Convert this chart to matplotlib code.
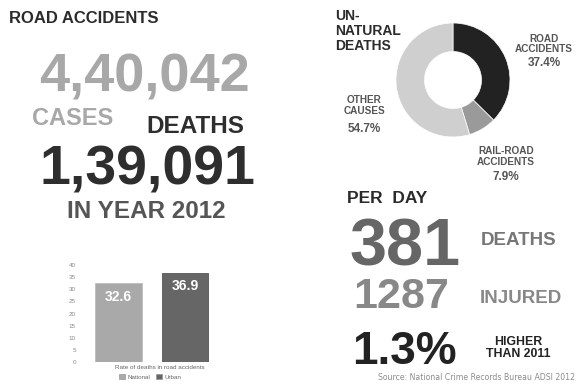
import matplotlib
matplotlib.use('Agg')
import matplotlib.pyplot as plt
from matplotlib.patches import Patch

#===== data =====
cases = "4,40,042"
deaths = "1,39,091"
year = "2012"

pie_labels = ["ROAD\nACCIDENTS", "RAIL-ROAD\nACCIDENTS", "OTHER\nCAUSES"]
pie_values = [37.4, 7.9, 54.7]
pie_colors = ["#222222", "#9a9a9a", "#cfcfcf"]

bar_cats = ["National", "Urban"]
bar_vals = [32.6, 36.9]
bar_colors = ["#a9a9a9", "#666666"]
bar_ticks = [0, 5, 10, 15, 20, 25, 30, 35, 40]

per_day_deaths = "381"
per_day_injured = "1287"
rise_pct = "1.3%"

W, H = 581, 392
plt.rcParams['font.family'] = ['Liberation Sans', 'DejaVu Sans']

fig = plt.figure(figsize=(W / 100, H / 100), dpi=100)
fig.patch.set_facecolor('white')


def txt(x, y, s, size, color, ha='left', weight='bold', **kw):
    # x,y in pixels from top-left, y is the baseline
    fig.text(x / W, 1 - y / H, s, fontsize=size, color=color, ha=ha,
             va='baseline', fontweight=weight, **kw)


def block(x, ys, lines, sizes, color, ha='center'):
    for y, s, sz in zip(ys, lines, sizes):
        txt(x, y, s, sz, color, ha=ha)


#===== left column =====
txt(9, 23, "ROAD ACCIDENTS", 12, "#2b2b2b")
txt(39, 92, cases, 39, "#a8a8a8")
txt(32, 125, "CASES", 17, "#a8a8a8")
txt(146, 133, "DEATHS", 17.5, "#2e2e2e")
txt(40, 185, deaths, 40, "#2e2e2e")
txt(67, 218, "IN YEAR " + year, 17.5, "#555555")

#===== bar chart =====
ax = fig.add_axes([80 / W, 1 - 362 / H, 160 / W, 97 / H])
xs = range(len(bar_cats))
bars = ax.bar(xs, bar_vals, width=0.7, color=bar_colors,
              edgecolor=['#bdbdbd', '#555555'], linewidth=0.6)
for b, v in zip(bars, bar_vals):
    ax.annotate(f"{v}", (b.get_x() + b.get_width() / 2, v), xytext=(0, -5),
                textcoords='offset points', ha='center', va='top',
                fontsize=10, fontweight='bold', color='white')
ax.set_xlim(-0.58, 1.83)
ax.set_ylim(0, 40)
ax.set_yticks(bar_ticks)
ax.tick_params(axis='y', length=0, labelsize=4.5, labelcolor='#888888', pad=3)
ax.set_xticks([])
for sp in ax.spines.values():
    sp.set_visible(False)
ax.axhline(0, color='#cccccc', lw=0.8, ls=':')
ax.set_xlabel("Rate of deaths in road accidents", fontsize=4.5,
              color='#666666', fontweight='normal', labelpad=2)
handles = [Patch(facecolor=c, edgecolor='#888888', lw=0.4) for c in bar_colors]
fig.legend(handles, bar_cats, loc='center', bbox_to_anchor=(150 / W, 1 - 377 / H),
           ncol=2, frameon=False, fontsize=4.5, handlelength=0.9,
           handleheight=0.9, columnspacing=1.0, handletextpad=0.4,
           labelcolor='#666666')

#===== donut =====
cx, cy, r = 453, 80, 57
pax = fig.add_axes([(cx - r) / W, 1 - (cy + r) / H, 2 * r / W, 2 * r / H])
pax.pie(pie_values, colors=pie_colors, startangle=90, counterclock=False,
        radius=1, wedgeprops=dict(width=0.5, edgecolor='white', linewidth=0.5))
pax.set_xlim(-1, 1)
pax.set_ylim(-1, 1)
pax.set_aspect('equal')
pax.axis('off')

block(335, [20.5, 35, 50.5], ["UN-", "NATURAL", "DEATHS"], [10, 10, 10],
      "#2b2b2b", ha='left')

label_pos = [(544, [41.7, 51.7, 66.5]), (506, [153.5, 165, 180]),
             (364, [103.5, 113.5, 131.5])]
for (lx, ys), name, v in zip(label_pos, pie_labels, pie_values):
    lines = name.split("\n") + [f"{v}%"]
    block(lx, ys, lines, [7.2, 7.2, 8.5], "#555555")

#===== per day =====
txt(347, 203, "PER  DAY", 12.5, "#2b2b2b")
txt(350, 265, per_day_deaths, 48, "#666666")
txt(481, 245, "DEATHS", 13.5, "#777777")
txt(353, 308, per_day_injured, 31, "#888888")
txt(480, 303, "INJURED", 13.5, "#888888")
txt(352, 364, rise_pct, 33, "#222222")
block(518, [345, 357], ["HIGHER", "THAN 2011"], [8.8, 8.8], "#222222")

fig.text(378 / W, 1 - 380.5 / H, "Source: National Crime Records Bureau ADSI 2012",
         fontsize=5.6, color='#8c8c8c', ha='left', va='baseline',
         family=['DejaVu Sans'], fontweight='normal')

fig.savefig('out.png', dpi=100, facecolor='white')
